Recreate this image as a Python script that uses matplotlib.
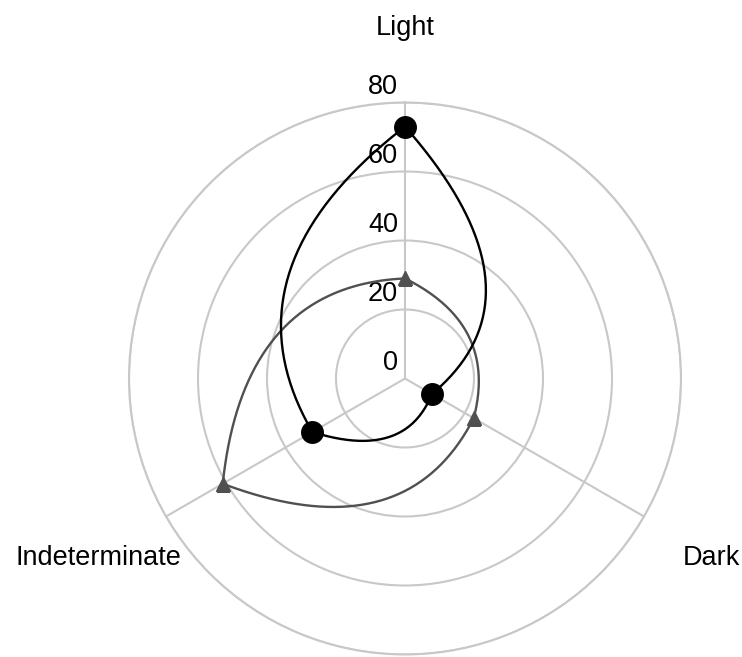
import numpy as np
import matplotlib.pyplot as plt

plt.rcParams['font.family'] = ['Liberation Sans', 'DejaVu Sans']

# data
axis_labels = ["Light", "Dark", "Indeterminate"]
axis_angles = [0, 120, 240]          # degrees, clockwise from top
r_ticks = [0, 20, 40, 60, 80]
circle_series = [73, 9, 31]
triangle_series = [29, 23, 61]

theta = np.deg2rad(axis_angles)


def smooth_loop(vals, bulge=1.2, n=80):
    # one quadratic bezier per segment, control point sits on the bisecting spoke
    xs, ys = [], []
    k = len(vals)
    s = np.linspace(0, 1, n)[:, None]
    for i in range(k):
        t0 = theta[i]
        t1 = t0 + 2 * np.pi / k
        r0, r1 = vals[i], vals[(i + 1) % k]
        tm = (t0 + t1) / 2
        rm = bulge * (r0 + r1) / 2
        p0 = np.array([r0 * np.sin(t0), r0 * np.cos(t0)])
        p1 = np.array([r1 * np.sin(t1), r1 * np.cos(t1)])
        pc = np.array([rm * np.sin(tm), rm * np.cos(tm)])
        pts = (1 - s) ** 2 * p0 + 2 * s * (1 - s) * pc + s ** 2 * p1
        xs.append(pts[:, 0])
        ys.append(pts[:, 1])
    x = np.concatenate(xs)
    y = np.concatenate(ys)
    th = np.unwrap(np.arctan2(x, y))
    return th, np.hypot(x, y)


fig = plt.figure(figsize=(7.42, 6.57), dpi=100)
ax = fig.add_axes([129 / 742, (657 - 654.5) / 657, 552 / 742, 552 / 657], projection='polar')
ax.set_theta_zero_location('N')
ax.set_theta_direction(-1)
ax.set_ylim(0, 80)

grid_c = '#c8c8c8'
ax.set_rticks(r_ticks[1:])
ax.set_yticklabels([])
ax.set_thetagrids(axis_angles, labels=[''] * len(axis_angles))
ax.grid(True, color=grid_c, lw=1.5)
ax.spines['polar'].set_color(grid_c)
ax.spines['polar'].set_linewidth(1.5)
ax.tick_params(length=0)

# curves
th, rr = smooth_loop(triangle_series)
ax.plot(th, rr, color='#505050', lw=1.7, zorder=3)
ax.plot(theta, triangle_series, ls='none', marker='^', ms=10, color='#505050', zorder=5)

th, rr = smooth_loop(circle_series)
ax.plot(th, rr, color='black', lw=1.7, zorder=4)
ax.plot(theta, circle_series, ls='none', marker='o', ms=15.5, color='black', zorder=6)

# radial tick labels
for v in r_ticks:
    ax.annotate(str(v), xy=(0, v), xytext=(-5, 6), textcoords='offset points',
                ha='right', va='baseline', fontsize=19.5, color='black',
                annotation_clip=False, zorder=2)

# axis names
for a, lbl in zip(theta, axis_labels):
    ax.annotate(lbl, xy=(a, 102.5), xytext=(0, -7.2), textcoords='offset points',
                ha='center', va='baseline', fontsize=19.5, color='black',
                annotation_clip=False)

plt.savefig('out.png', dpi=100)
